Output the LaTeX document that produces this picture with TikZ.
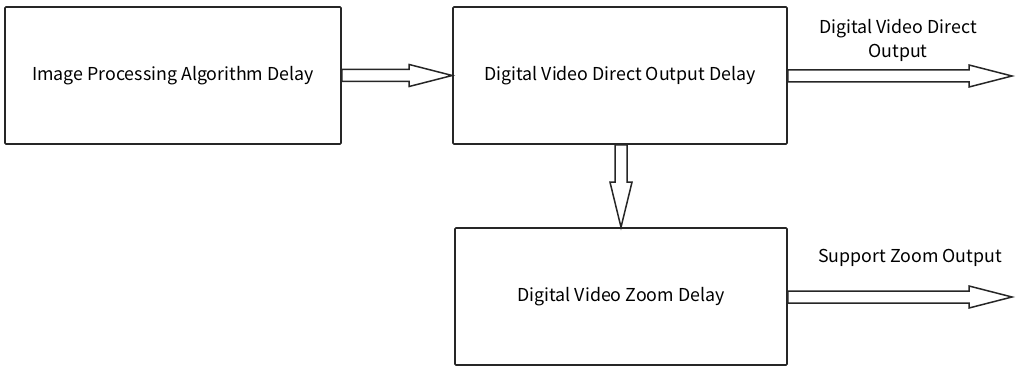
\documentclass[tikz,border=0pt]{standalone}
\usepackage{fontspec}
\setmainfont{Noto Sans CJK SC}
\usetikzlibrary{calc}
\tikzset{
  blk/.style={draw=black!85, line width=1.6pt, rounded corners=1pt, minimum height=137pt, inner sep=0pt, align=center, font=\fontsize{17.8}{21}\selectfont},
  fat/.style={draw=black!85, line width=1.5pt, fill=white, line join=miter},
  lbl/.style={align=center, font=\fontsize{17.8}{24}\selectfont, inner sep=0pt}
}
\newcommand\fatR[2]{%
  \draw[fat] ($(#1)+(0,6)$) -- ($(#2)+(-43,6)$) -- ($(#2)+(-43,11)$) -- (#2) -- ($(#2)+(-43,-11)$) -- ($(#2)+(-43,-6)$) -- ($(#1)+(0,-6)$) -- cycle;}
\newcommand\fatD[2]{%
  \draw[fat] ($(#1)+(-6,0)$) -- ($(#2)+(-6,-45)$) -- ($(#2)+(-11,-45)$) -- (#2) -- ($(#2)+(11,-45)$) -- ($(#2)+(6,-45)$) -- ($(#1)+(6,0)$) -- cycle;}
\begin{document}
\begin{tikzpicture}[x=1pt,y=-1pt]
\useasboundingbox (0,0) rectangle (1016,371);
\node[blk, minimum width=336pt] (a) at (173,75.5) {Image Processing Algorithm Delay};
\node[blk, minimum width=334pt] (b) at (620,75.5) {\raisebox{-4pt}{Digital Video Direct Output Delay}};
\node[blk, minimum width=332pt] (c) at (621,296.5) {Digital Video Zoom Delay};
\coordinate (o1) at (1012,76);
\coordinate (o2) at (1012,297);
\fatR{a.east}{b.west}
\fatD{$(b.south)+(1,0)$}{$(c.north)$}
\fatR{$(b.east)+(0,0.5)$}{o1}
\fatR{$(c.east)+(0,0.5)$}{o2}
\node[lbl] (l1) at (898,40) {Digital Video Direct\\Output};
\node[lbl] (l2) at (910,258) {Support Zoom Output};
\end{tikzpicture}
\end{document}
